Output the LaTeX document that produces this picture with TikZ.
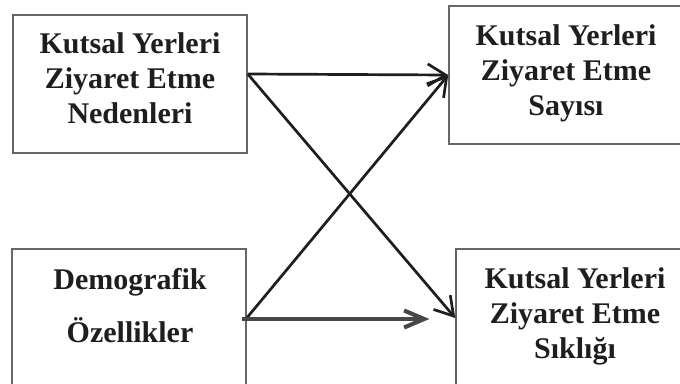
\documentclass[tikz,border=0pt]{standalone}
\usepackage{fontspec}
\setmainfont{Liberation Serif}
\usetikzlibrary{arrows.meta}
\definecolor{boxgray}{HTML}{666666}
\definecolor{inkblack}{HTML}{1E1E1E}
\definecolor{arrowgray}{HTML}{474747}
\definecolor{shadowgray}{HTML}{C4C4C4}
\begin{document}
\begin{tikzpicture}[x=1pt,y=-1pt,
  box/.style={draw=boxgray, line width=1.5pt, minimum width=234pt, minimum height=138pt, inner sep=0pt},
  boxlabel/.style={font=\fontsize{30}{35}\selectfont\bfseries, align=center, inner sep=0pt, text=inkblack, anchor=north},
  link/.style={-{Straight Barb[length=18pt,width=22pt]}, line width=2.7pt, draw=inkblack},
  graybarb/.style={-{Straight Barb[length=20pt,width=17pt]}, line width=4pt},
  graylink/.style={graybarb, draw=arrowgray},
  shadowlink/.style={graybarb, draw=shadowgray}]
  \path[use as bounding box, clip] (0,0) rectangle (680,383);

  % the four boxes
  \node[box] (boxA) at (130,84) {};
  \node[box] (boxB) at (566,75) {};
  \node[box] (boxC) at (129,318) {};
  \node[box] (boxD) at (573,318) {};

  % their labels
  \node[boxlabel] (labA) at (130,32.5) {Kutsal Yerleri\\Ziyaret Etme\\Nedenleri};
  \node[boxlabel] (labB) at (566,24.5) {Kutsal Yerleri\\Ziyaret Etme\\Sayısı};
  \node[boxlabel, font=\fontsize{30}{53}\selectfont\bfseries] (labC) at (130,268.5) {Demografik\\Özellikler};
  \node[boxlabel] (labD) at (575,267.5) {Kutsal Yerleri\\Ziyaret Etme\\Sıklığı};

  % connector end points
  \coordinate (aOut) at ([yshift=10pt]boxA.east);
  \coordinate (cOut) at ([xshift=-5pt,yshift=-1pt]boxC.east);
  \coordinate (dIn) at ([xshift=-26pt,yshift=-1pt]boxD.west);

  % connectors
  \draw[link] (aOut) -- (boxB.west);
  \draw[link] (aOut) -- (boxD.west);
  \draw[link] (boxC.east) -- (boxB.west);
  \draw[shadowlink, shift={(1.5,3)}] (cOut) -- (dIn);
  \draw[graylink] (cOut) -- (dIn);
\end{tikzpicture}
\end{document}
